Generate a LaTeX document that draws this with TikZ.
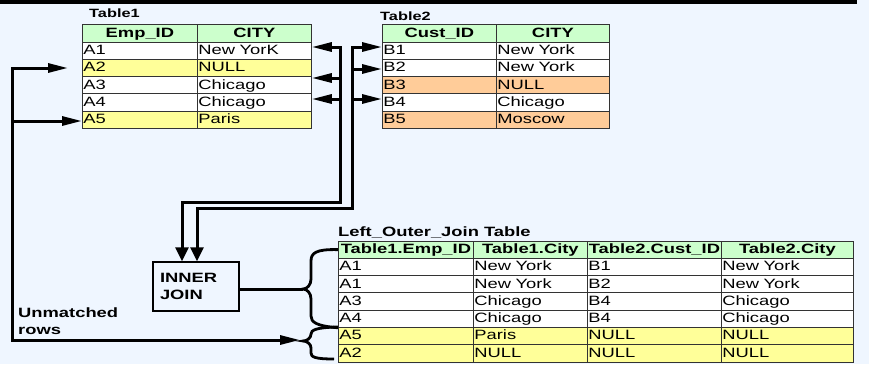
\documentclass[tikz,border=0pt]{standalone}
\usepackage{fontspec}
\setmainfont[FakeStretch=1.36]{Liberation Sans}
\usetikzlibrary{arrows.meta}
\definecolor{bgc}{HTML}{EFF6FF}
\definecolor{hdr}{HTML}{CCFFCC}
\definecolor{yel}{HTML}{FFFF99}
\definecolor{org}{HTML}{FFCC99}
\begin{document}
\begin{tikzpicture}[x=1pt, y=-1pt,
  font=\fontsize{13.5}{17}\selectfont,
  cellbase/.style={draw=black!80, line width=0.8pt, anchor=north west,
    inner xsep=1pt, inner ysep=0pt, minimum height=17.3pt,
    text height=10.5pt, text depth=2.6pt},
  dcell/.style={cellbase, align=left},
  hcell/.style={cellbase, align=center, fill=hdr,
    font=\fontsize{13.5}{17}\selectfont\bfseries},
  ttl/.style={anchor=base west, inner sep=0pt, font=\fontsize{13.5}{17}\selectfont\bfseries},
  conn/.style={line width=3pt},
  brace/.style={line width=2.8pt},
  tipH/.tip={Triangle[length=20pt, width=9pt]},
  tipV/.tip={Triangle[length=14pt, width=13pt]},
]
% canvas and top rule
\fill[bgc] (0,0) rectangle (869,364);
\fill[black] (0,0) rectangle (857,3.5);

% ---- Table1 ----
\node[ttl, font=\fontsize{12}{14}\selectfont\bfseries] (t1lbl) at (89,17.3) {Table1};
\node[hcell, text width=113pt] (t1-0-1) at (82,24.2) {Emp\_ID};
\node[hcell, text width=112pt] (t1-0-2) at (197,24.2) {CITY};
\foreach \id/\city/\col [count=\i] in
  {A1/New YorK/white, A2/NULL/yel, A3/Chicago/white, A4/Chicago/white, A5/Paris/yel}{
  \node[dcell, fill=\col, text width=113pt] (t1-\i-1) at (82,24.2+17.3*\i) {\id};
  \node[dcell, fill=\col, text width=112pt] (t1-\i-2) at (197,24.2+17.3*\i) {\city};
}

% ---- Table2 ----
\node[ttl, font=\fontsize{12}{14}\selectfont\bfseries] (t2lbl) at (380,20) {Table2};
\node[hcell, text width=112pt] (t2-0-1) at (382,24.2) {Cust\_ID};
\node[hcell, text width=111pt] (t2-0-2) at (496,24.2) {CITY};
\foreach \id/\city/\col [count=\i] in
  {B1/New York/white, B2/New York/white, B3/NULL/org, B4/Chicago/white, B5/Moscow/org}{
  \node[dcell, fill=\col, text width=112pt] (t2-\i-1) at (382,24.2+17.3*\i) {\id};
  \node[dcell, fill=\col, text width=111pt] (t2-\i-2) at (496,24.2+17.3*\i) {\city};
}

% ---- Result table ----
\node[ttl] (rlbl) at (338,236) {Left\_Outer\_Join Table};
\node[hcell, text width=133pt] (r-0-1) at (338,240.6) {Table1.Emp\_ID};
\node[hcell, text width=112pt] (r-0-2) at (473,240.6) {Table1.City};
\node[hcell, text width=132pt] (r-0-3) at (587,240.6) {Table2.Cust\_ID};
\node[hcell, text width=130pt] (r-0-4) at (721,240.6) {Table2.City};
\foreach \a/\b/\c/\d/\col [count=\i] in
  {A1/New York/B1/New York/white, A1/New York/B2/New York/white,
   A3/Chicago/B4/Chicago/white, A4/Chicago/B4/Chicago/white,
   A5/Paris/NULL/NULL/yel, A2/NULL/NULL/NULL/yel}{
  \node[dcell, fill=\col, text width=133pt] (r-\i-1) at (338,240.6+17.27*\i) {\a};
  \node[dcell, fill=\col, text width=112pt] (r-\i-2) at (473,240.6+17.27*\i) {\b};
  \node[dcell, fill=\col, text width=132pt] (r-\i-3) at (587,240.6+17.27*\i) {\c};
  \node[dcell, fill=\col, text width=130pt] (r-\i-4) at (721,240.6+17.27*\i) {\d};
}

% ---- INNER JOIN box ----
\node[draw, line width=1.4pt, fill=bgc, minimum width=86pt, minimum height=49pt,
      text width=72pt, inner xsep=7pt, align=left,
      font=\fontsize{13.5}{17}\selectfont\bfseries] (ij) at (196,286.5) {INNER\\JOIN};

% ---- Unmatched rows label ----
\node[ttl] (um1) at (18,317.3) {Unmatched};
\node[ttl] (um2) at (18,334) {rows};

% ---- feeds from Table1 into the join ----
\draw[conn, tipH-tipV] (t1-1-2.east |- 0,47) -- (340,47) -- (340,202) -- (182,202) -- (ij.north -| 182,0);
\draw[conn, -tipH] (340,78) -- (t1-3-2.east |- 0,78);
\draw[conn, -tipH] (340,99) -- (t1-4-2.east |- 0,99);

% ---- feeds from Table2 into the join ----
\draw[conn, tipH-tipV] (t2-1-1.west |- 0,47) -- (352,47) -- (352,208) -- (197,208) -- (ij.north -| 197,0);
\draw[conn, -tipH] (352,69) -- (t2-2-1.west |- 0,69);
\draw[conn, -tipH] (352,99) -- (t2-4-1.west |- 0,99);

% ---- unmatched rows path ----
\coordinate (a2tip) at (68,68);
\coordinate (umtip) at (300,340);
\draw[conn, tipH-tipH] (a2tip) -- (12,68) -- (12,340) -- (umtip);
\draw[conn, -tipH] (12,121) -- (t1-5-1.west |- 0,121);

% ---- braces into the result ----
\coordinate (cusp1) at (303,289);
\coordinate (cusp2) at (303,341);
\draw[conn] (ij.east |- cusp1) -- (cusp1);
\draw[brace] (r-0-1.west) .. controls (316,249) and (311,253) .. (311,261) -- (311,279)
  .. controls (311,285) and (307,289) .. (cusp1)
  .. controls (307,289) and (311,293) .. (311,299) -- (311,316)
  .. controls (311,322) and (316,326) .. (r-4-1.south west);
\draw[brace] (r-5-1.north west) .. controls (316,327.5) and (311,330) .. (311,334)
  .. controls (311,338) and (307,341) .. (cusp2)
  .. controls (307,341) and (311,344) .. (311,348) -- (311,353)
  .. controls (311,357) and (315,359) .. (334,359);
\end{tikzpicture}
\end{document}
